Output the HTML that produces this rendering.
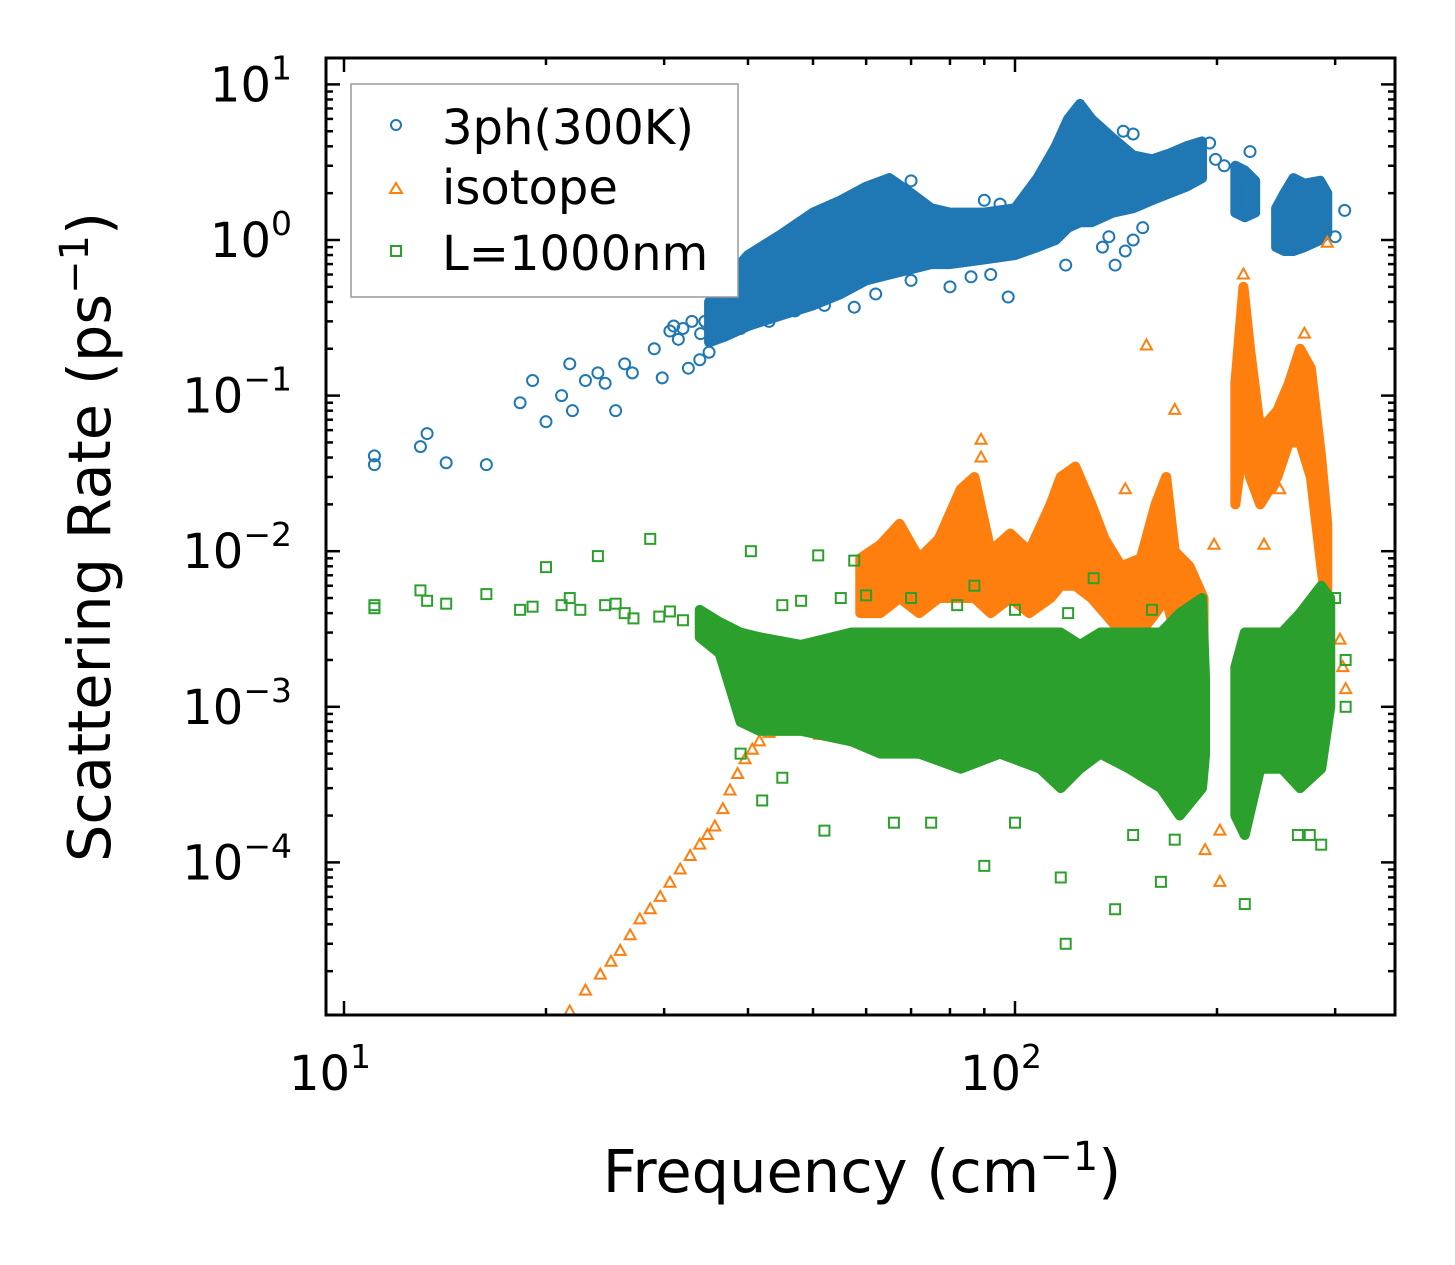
<!DOCTYPE html>
<html><head><meta charset="utf-8"><style>
html,body{margin:0;padding:0;background:#fff;}
svg{display:block;font-family:"DejaVu Sans","Liberation Sans",sans-serif;}
</style></head><body>
<svg id="chart" width="1455" height="1265" viewBox="0 0 1455 1265" xmlns="http://www.w3.org/2000/svg">
<rect width="1455" height="1265" fill="#fff"/>
<defs><clipPath id="clip"><rect x="326" y="58" width="1069" height="957"/></clipPath></defs>
<g id="plot" clip-path="url(#clip)"></g>
<g id="axes"></g>
<text x="862" y="1192" font-size="59" text-anchor="middle">Frequency (cm<tspan dy="-22" font-size="40">−1</tspan><tspan dy="22">)</tspan></text>
<text transform="translate(110,537) rotate(-90)" font-size="59" text-anchor="middle">Scattering Rate (ps<tspan dy="-22" font-size="40">−1</tspan><tspan dy="22">)</tspan></text>
<g>
<rect x="351" y="84" width="387" height="213" fill="#fff" stroke="#999" stroke-width="1.5"/>
<g><circle cx="396" cy="125" r="5" fill="none" stroke="#1f77b4" stroke-width="2"/><text x="442" y="144" font-size="48">3ph(300K)</text></g>
<g><polygon points="396,183 402,193 390,193" fill="none" stroke="#ff7f0e" stroke-width="2"/><text x="442" y="204" font-size="48">isotope</text></g>
<g><rect x="391" y="246" width="10" height="10" fill="none" stroke="#2ca02c" stroke-width="2"/><text x="442" y="270" font-size="48">L=1000nm</text></g>
</g>
</svg>
<script>
// ---- data ----
const blueBand = [[35,0.22,0.4],[37,0.24,0.55],[40,0.28,0.8],[45,0.33,1.1],[50,0.38,1.5],[55,0.45,1.8],[60,0.55,2.2],[65,0.6,2.5],[70,0.65,2.0],[75,0.7,1.6],[80,0.7,1.5],[90,0.75,1.5],[100,0.8,1.6],[108,0.9,2.5],[115,1.0,4],[120,1.2,6],[125,1.3,7.5],[130,1.3,6],[140,1.5,4.5],[150,1.6,3.5],[160,1.8,3.3],[170,2.0,3.6],[180,2.2,4.0],[190,2.5,4.3]];
const blueBand2 = [[213,1.5,3.0],[220,1.4,2.8],[228,1.5,2.4]];
const blueBand3 = [[245,0.9,1.6],[252,0.85,2.0],[260,0.85,2.5],[270,0.9,2.3],[285,1.0,2.4],[292,1.1,2.0]];
const bluePts = [[11.1,0.041],[11.1,0.036],[13.0,0.047],[13.3,0.057],[14.2,0.037],[16.3,0.036],[18.3,0.09],[19.1,0.125],[20.0,0.068],[21.1,0.1],[21.7,0.16],[21.9,0.08],[22.9,0.125],[23.9,0.14],[24.5,0.12],[25.4,0.08],[26.2,0.16],[26.9,0.14],[29,0.2],[29.8,0.13],[30.6,0.26],[31.5,0.23],[32.6,0.15],[33.9,0.17],[31,0.28],[32,0.27],[33,0.3],[34,0.25],[34.5,0.3],[35,0.19],[36,0.36],[38,0.4],[39,0.27],[41,0.33],[43,0.3],[47,0.35],[52,0.38],[57.6,0.37],[62,0.45],[70,0.55],[80,0.5],[86,0.58],[92,0.6],[97.7,0.43],[141,0.69],[119,0.69],[300,1.05],[310,1.55],[224,3.7],[199,3.3],[205,3.0],[150,1.0],[146,0.85],[155,1.2],[135,0.9],[138,1.05],[90,1.8],[95,1.7],[70,2.4],[112,3.0],[145,5.0],[150,4.8],[195,4.2]];
const orangeRise = [[21.7,1.1e-5],[22.9,1.5e-5],[24.1,1.9e-5],[25.0,2.3e-5],[25.8,2.7e-5],[26.7,3.4e-5],[27.6,4.3e-5],[28.6,5.0e-5],[29.6,6e-5],[30.6,7.4e-5],[31.7,9e-5],[32.8,1.1e-4],[33.9,1.3e-4],[34.8,1.5e-4],[35.7,1.7e-4],[36.7,2.2e-4],[37.6,2.9e-4],[38.6,3.7e-4],[39.6,4.6e-4],[40.6,5.3e-4],[41.6,6e-4],[43,6.8e-4],[44.6,7.6e-4],[46,7.4e-4],[47.8,7.6e-4],[49.5,7.0e-4],[51.2,6.6e-4],[52.5,7.5e-4],[54,8e-4],[56,9e-4]];
const orangeBand = [[58.8,0.004,0.009],[63,0.004,0.011],[67.3,0.005,0.015],[72,0.004,0.009],[77,0.005,0.012],[83,0.005,0.025],[87,0.005,0.03],[92,0.004,0.01],[98.4,0.005,0.013],[105,0.004,0.01],[113,0.005,0.02],[117,0.006,0.03],[123,0.006,0.035],[130,0.005,0.02],[136,0.004,0.012],[144,0.003,0.008],[154,0.003,0.009],[162,0.004,0.02],[168,0.005,0.03],[173,0.003,0.01],[182,0.002,0.008],[191,0.002,0.005]];
const orangeBand2 = [[213,0.02,0.12],[219,0.05,0.5],[224,0.03,0.2],[232,0.02,0.06],[246,0.03,0.08],[256,0.05,0.12],[266,0.05,0.2],[276,0.03,0.15],[286,0.008,0.04],[292,0.004,0.015]];
const orangePts = [[157,0.21],[173,0.081],[89,0.052],[89,0.04],[292,0.96],[305,0.0027],[311,0.0013],[308,0.0018],[202,1.6e-4],[202,7.5e-5],[192,1.2e-4],[198,0.011],[235,0.011],[248,0.025],[219,0.6],[270,0.25],[146,0.025]];
const greenPts = [[11.1,0.0045],[11.1,0.0043],[13,0.0056],[13.3,0.0048],[14.2,0.0046],[16.3,0.0053],[18.3,0.0042],[19.1,0.0044],[20,0.0079],[21.1,0.0045],[21.7,0.005],[22.5,0.0042],[23.9,0.0093],[24.5,0.0045],[25.4,0.0046],[26.2,0.0040],[27,0.0037],[28.6,0.012],[29.5,0.0038],[30.6,0.0041],[32,0.0036],[40.4,0.010],[50.9,0.0094],[57.6,0.0087],[87,0.006],[131,0.0067],[119,3e-5],[141,5e-5],[220,5.4e-5],[90,9.5e-5],[117,8e-5],[165,7.5e-5],[311,0.001],[52,1.6e-4],[42,2.5e-4],[39,5e-4],[45,3.5e-4],[66,1.8e-4],[75,1.8e-4],[100,1.8e-4],[150,1.5e-4],[173,1.4e-4],[275,1.5e-4],[264,1.5e-4],[286,1.3e-4],[311,0.002],[45,0.0045],[48,0.0048],[55,0.005],[60,0.0052],[70,0.005],[82,0.0045],[100,0.0042],[120,0.004],[160,0.0042],[300,0.005]];
const greenBand = [[33.9,0.0028,0.0042],[36.3,0.0022,0.0035],[39,0.0008,0.003],[41.6,0.0007,0.0028],[48,0.0007,0.0025],[57,0.0006,0.003],[63,0.0005,0.003],[72,0.0005,0.003],[83,0.0004,0.003],[95,0.0005,0.003],[109,0.0004,0.003],[117,0.0003,0.003],[125,0.0004,0.0025],[134,0.0005,0.003],[148,0.0004,0.003],[165,0.0003,0.003],[176,0.0002,0.004],[190,0.0003,0.005],[192,0.0005,0.0015]];
const greenBand2 = [[213,0.0002,0.0018],[220,0.00015,0.003],[232,0.0004,0.003],[250,0.0004,0.003],[266,0.0003,0.004],[286,0.0004,0.006],[295,0.001,0.005]];
const xTicks = [10,100];
const yTicks = [1,0,-1,-2,-3,-4];

// ---- scales ----
const X0=344, XD=671, YT=240, YD=155.6;
const xs = f => X0 + (Math.log10(f)-1)*XD;
const ys = v => YT - Math.log10(v)*YD;
const NS="http://www.w3.org/2000/svg";
const plot=document.getElementById('plot'), axes=document.getElementById('axes');
function mk(tag,attrs,parent){const e=document.createElementNS(NS,tag);for(const k in attrs)e.setAttribute(k,attrs[k]);parent.appendChild(e);return e;}

function band(data,color,name){
  const top=data.map(d=>xs(d[0])+','+ys(d[2]));
  const bot=data.slice().reverse().map(d=>xs(d[0])+','+ys(d[1]));
  const p=mk('polygon',{points:top.concat(bot).join(' '),fill:color,stroke:color,'stroke-width':10,'stroke-linejoin':'round'},plot);
  
  
}
function marker(type,f,v,color){
  const x=xs(f),y=ys(v);let e;
  if(type==='c') e=mk('circle',{cx:x,cy:y,r:5.5,fill:'none',stroke:color,'stroke-width':2},plot);
  else if(type==='t') e=mk('polygon',{points:`${x},${y-6} ${x+5.5},${y+4} ${x-5.5},${y+4}`,fill:'none',stroke:color,'stroke-width':2},plot);
  else e=mk('rect',{x:x-5,y:y-5,width:10,height:10,fill:'none',stroke:color,'stroke-width':2},plot);
  
  
}
const B='#1f77b4',O='#ff7f0e',G='#2ca02c';
band(blueBand,B,'3ph-dense-band');band(blueBand2,B,'3ph-dense-band');band(blueBand3,B,'3ph-dense-band');
bluePts.forEach(d=>marker('c',d[0],d[1],B));
band(orangeBand,O,'isotope-dense-band');band(orangeBand2,O,'isotope-dense-band');
orangeRise.forEach(d=>marker('t',d[0],d[1],O));
orangePts.forEach(d=>marker('t',d[0],d[1],O));
band(greenBand,G,'boundary-dense-band');band(greenBand2,G,'boundary-dense-band');
greenPts.forEach(d=>marker('s',d[0],d[1],G));

// ---- axes ----
const L=326,R=1395,T=58,Bm=1015;
const fr=mk('rect',{x:L,y:T,width:R-L,height:Bm-T,fill:'none',stroke:'#000','stroke-width':3},axes);


function tick(x1,y1,x2,y2){mk('line',{x1,y1,x2,y2,stroke:'#000','stroke-width':2.5},axes);}
for(let e=0;e<3;e++){for(let m=1;m<10;m++){const fv=m*Math.pow(10,e);const x=xs(fv);if(x<L||x>R)continue;const len=m===1?14:7;tick(x,Bm,x,Bm-len);tick(x,T,x,T+len);}}
for(let e=-5;e<=1;e++){for(let m=1;m<10;m++){const v=m*Math.pow(10,e);const y=ys(v);if(y<T||y>Bm)continue;const len=m===1?14:7;tick(L,y,L+len,y);tick(R,y,R-len,y);}}
xTicks.forEach(f=>{const t=mk('text',{x:xs(f)-14,y:1090,'font-size':48,'text-anchor':'middle'},axes);t.textContent='10';
 const s=mk('tspan',{dy:-22,'font-size':33},t);s.textContent=String(Math.round(Math.log10(f)));
 
 });
yTicks.forEach(e=>{const t=mk('text',{x:292,y:ys(Math.pow(10,e))+17,'font-size':48,'text-anchor':'end'},axes);t.textContent='10';
 const s=mk('tspan',{dy:-22,'font-size':33},t);s.textContent=e<0?'−'+(-e):String(e);
 
 });
</script>
</body></html>
